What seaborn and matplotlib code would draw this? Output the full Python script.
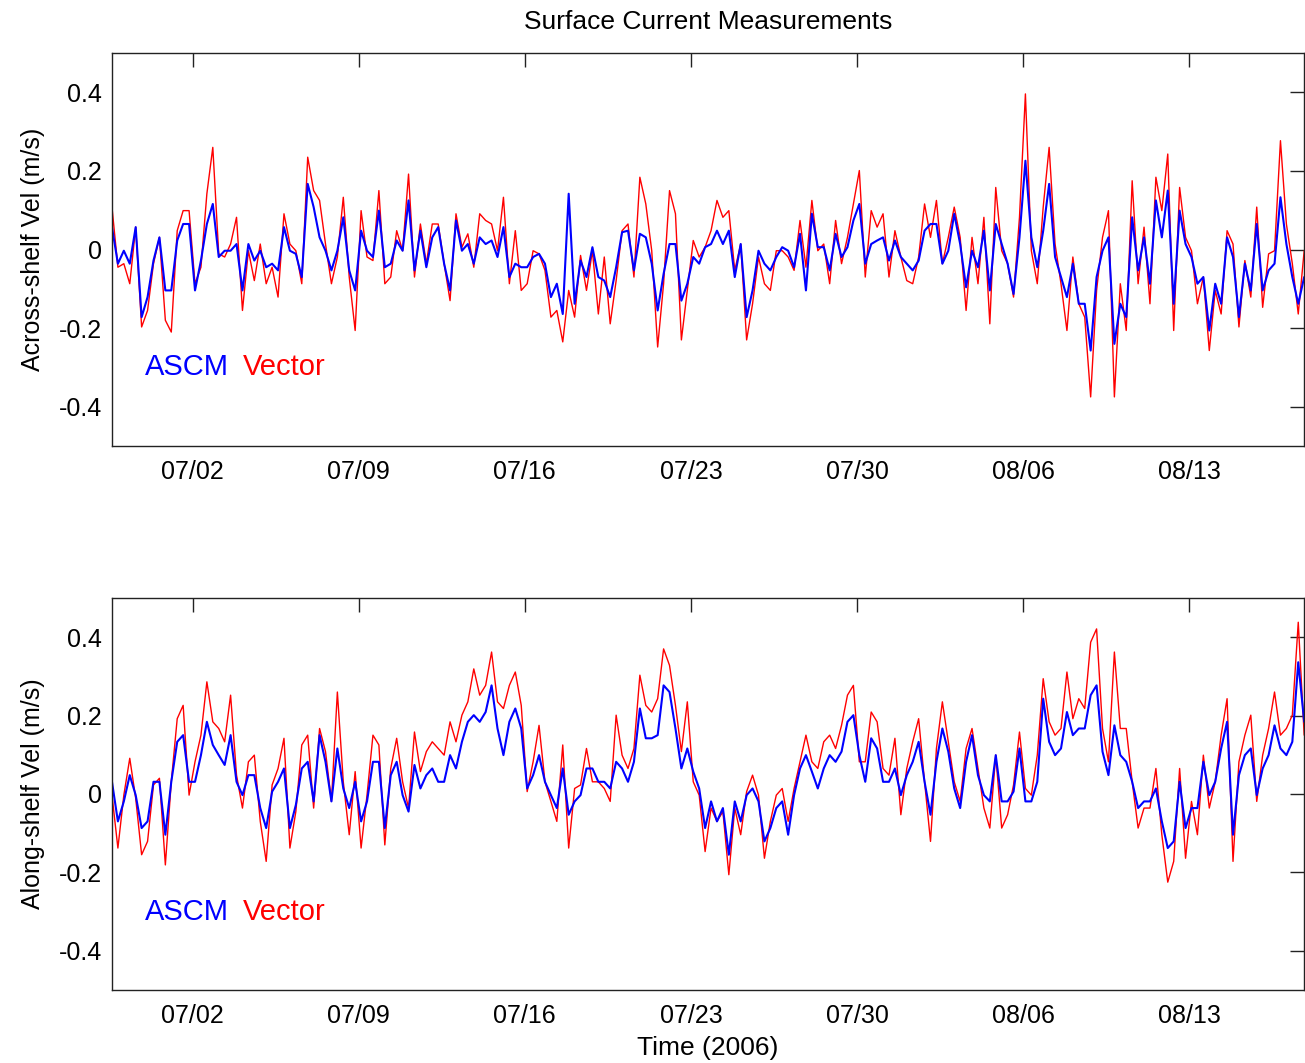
import numpy as np
import pandas as pd
import matplotlib
matplotlib.use('Agg')
import matplotlib.pyplot as plt
import matplotlib.dates as mdates
import seaborn as sns

# sample grid of the records (6-hourly)
start_time = pd.Timestamp('2006-06-28 14:24')
step_hours = 6
end_time = pd.Timestamp('2006-08-17 20:10')

# across-shelf velocity (m/s)
across_ascm = [
    0.057, -0.036, -0.003, -0.036, 0.057, -0.172, -0.121, -0.028, 0.031, -0.104,
    -0.104, 0.023, 0.065, 0.065, -0.104, -0.028, 0.065, 0.116, -0.019, -0.003,
    -0.003, 0.014, -0.104, 0.014, -0.028, -0.003, -0.045, -0.036, -0.053, 0.057,
    -0.003, -0.011, -0.070, 0.167, 0.108, 0.031, -0.003, -0.053, -0.003, 0.082,
    -0.053, -0.104, 0.048, -0.003, -0.019, 0.099, -0.045, -0.036, 0.023, -0.003,
    0.125, -0.053, 0.048, -0.045, 0.031, 0.057, -0.036, -0.104, 0.074, -0.003,
    0.014, -0.036, 0.031, 0.014, 0.023, -0.019, 0.057, -0.070,
    -0.036, -0.045, -0.045, -0.019, -0.011, -0.036, -0.121, -0.087, -0.164, 0.142,
    -0.138, -0.028, -0.070, 0.006, -0.070, -0.079, -0.121, -0.045, 0.044, 0.048,
    -0.053, 0.040, 0.031, -0.036, -0.155, -0.062, 0.014, 0.014, -0.130, -0.087,
    -0.019, -0.036, 0.006, 0.014, 0.048, 0.014, 0.048, -0.070, 0.014, -0.172,
    -0.104, -0.003, -0.036, -0.053, -0.019, 0.006, -0.003, -0.045, 0.040, -0.104,
    0.091, 0.006, 0.006, -0.053, 0.040, -0.019, 0.006, 0.074, 0.116, -0.036,
    0.014, 0.023, 0.031, -0.028, 0.023, -0.019, -0.036,
    -0.053, -0.028, 0.048, 0.065, 0.065, -0.036, -0.003, 0.091, 0.014, -0.096,
    -0.003, -0.045, 0.048, -0.104, 0.065, 0.014, -0.036, -0.113, 0.031, 0.226,
    0.031, -0.045, 0.048, 0.167, -0.019, -0.070, -0.121, -0.036, -0.138, -0.138,
    -0.257, -0.070, -0.003, 0.031, -0.240, -0.138, -0.172, 0.082, -0.053, 0.031,
    -0.087, 0.125, 0.031, 0.150, -0.138, 0.099, 0.014, -0.019, -0.087, -0.070,
    -0.206, -0.087, -0.138, 0.031, -0.019, -0.172, -0.036, -0.104, 0.065, -0.104,
    -0.053, -0.036, 0.133, 0.014, -0.070, -0.138, -0.070,
]
across_vector = [
    0.108, -0.045, -0.036, -0.087, 0.057, -0.197, -0.155, -0.036, 0.031, -0.180,
    -0.210, 0.048, 0.099, 0.099, -0.087, -0.045, 0.142, 0.260, -0.011, -0.019,
    0.014, 0.082, -0.155, -0.003, -0.079, 0.014, -0.087, -0.045, -0.121, 0.091,
    0.014, -0.003, -0.087, 0.235, 0.150, 0.125, 0.014, -0.087, -0.019, 0.133,
    -0.070, -0.206, 0.099, -0.019, -0.028, 0.150, -0.087, -0.070, 0.048, -0.003,
    0.192, -0.070, 0.065, -0.036, 0.065, 0.065, -0.036, -0.130, 0.091, 0.006,
    0.040, -0.045, 0.091, 0.074, 0.065, -0.003, 0.133, -0.087,
    0.048, -0.104, -0.087, -0.003, -0.011, -0.053, -0.172, -0.155, -0.235, -0.104,
    -0.172, -0.015, -0.104, -0.003, -0.164, -0.019, -0.189, -0.079, 0.048, 0.065,
    -0.070, 0.184, 0.116, -0.003, -0.248, -0.087, 0.150, 0.091, -0.230, -0.104,
    0.023, -0.019, 0.006, 0.048, 0.125, 0.082, 0.099, -0.053, 0.014, -0.230,
    -0.138, -0.019, -0.087, -0.104, -0.003, -0.003, -0.019, -0.053, 0.074, -0.045,
    0.125, -0.003, 0.014, -0.087, 0.074, -0.036, 0.031, 0.116, 0.201, -0.070,
    0.099, 0.057, 0.091, -0.070, 0.048, -0.019, -0.079,
    -0.087, -0.019, 0.116, 0.031, 0.125, -0.036, 0.031, 0.108, 0.031, -0.155,
    0.031, -0.087, 0.082, -0.189, 0.158, -0.003, -0.036, -0.121, 0.082, 0.396,
    -0.003, -0.087, 0.108, 0.260, 0.014, -0.087, -0.206, -0.019, -0.138, -0.172,
    -0.375, -0.104, 0.031, 0.099, -0.375, -0.087, -0.206, 0.175, -0.087, 0.057,
    -0.138, 0.184, 0.099, 0.243, -0.206, 0.158, 0.031, -0.003, -0.138, -0.070,
    -0.257, -0.104, -0.164, 0.048, 0.014, -0.197, -0.028, -0.121, 0.108, -0.147,
    -0.011, -0.003, 0.277, 0.065, -0.036, -0.164, -0.003,
]

# along-shelf velocity (m/s)
along_ascm = [
    0.031, -0.070, -0.019, 0.048, -0.003, -0.087, -0.070, 0.031, 0.031, -0.104,
    0.031, 0.133, 0.150, 0.031, 0.031, 0.099, 0.184, 0.125, 0.099, 0.074,
    0.150, 0.031, -0.003, 0.048, 0.048, -0.036, -0.087, 0.006, 0.031, 0.065,
    -0.087, -0.028, 0.065, 0.082, -0.019, 0.150, 0.082, -0.019, 0.116, 0.014,
    -0.036, 0.031, -0.070, -0.019, 0.082, 0.082, -0.087, 0.048, 0.082, -0.003,
    -0.045, 0.074, 0.014, 0.048, 0.065, 0.031, 0.031, 0.099, 0.065, 0.133,
    0.184, 0.201, 0.184, 0.209, 0.277, 0.167, 0.099, 0.184,
    0.218, 0.167, 0.014, 0.048, 0.099, 0.031, -0.003, -0.036, 0.065, -0.053,
    -0.019, -0.003, 0.065, 0.065, 0.031, 0.031, 0.014, 0.082, 0.065, 0.031,
    0.082, 0.218, 0.142, 0.142, 0.150, 0.277, 0.260, 0.167, 0.065, 0.116,
    0.057, 0.014, -0.087, -0.019, -0.070, -0.036, -0.155, -0.019, -0.070, -0.003,
    0.014, -0.019, -0.121, -0.087, -0.036, -0.019, -0.104, -0.003, 0.065, 0.099,
    0.057, 0.014, 0.065, 0.099, 0.082, 0.108, 0.184, 0.201, 0.099, 0.031,
    0.142, 0.116, 0.031, 0.031, 0.065, -0.003, 0.048,
    0.082, 0.133, 0.031, -0.053, 0.082, 0.167, 0.108, 0.014, -0.036, 0.082,
    0.150, 0.048, -0.003, -0.019, 0.099, -0.019, -0.019, 0.006, 0.116, -0.019,
    -0.019, 0.031, 0.243, 0.133, 0.099, 0.116, 0.209, 0.150, 0.167, 0.167,
    0.252, 0.277, 0.108, 0.048, 0.175, 0.099, 0.082, 0.031, -0.036, -0.019,
    -0.019, 0.014, -0.070, -0.138, -0.121, 0.031, -0.087, -0.036, -0.036, 0.082,
    -0.003, 0.031, 0.116, 0.184, -0.104, 0.048, 0.099, 0.116, -0.003, 0.065,
    0.099, 0.175, 0.116, 0.099, 0.133, 0.336, 0.184,
]
along_vector = [
    -0.003, -0.138, -0.003, 0.091, -0.011, -0.155, -0.121, 0.023, 0.040, -0.181,
    0.031, 0.192, 0.226, -0.003, 0.082, 0.150, 0.286, 0.184, 0.167, 0.133,
    0.252, 0.048, -0.036, 0.082, 0.099, -0.070, -0.172, 0.023, 0.065, 0.142,
    -0.138, -0.045, 0.125, 0.150, -0.036, 0.167, 0.108, -0.019, 0.260, 0.031,
    -0.104, 0.057, -0.138, -0.003, 0.150, 0.125, -0.130, 0.065, 0.142, 0.031,
    -0.036, 0.158, 0.057, 0.108, 0.133, 0.116, 0.099, 0.184, 0.133, 0.201,
    0.235, 0.319, 0.252, 0.277, 0.362, 0.235, 0.218, 0.277,
    0.311, 0.226, 0.006, 0.082, 0.175, 0.031, -0.019, -0.070, 0.125, -0.138,
    0.014, 0.023, 0.116, 0.031, 0.031, 0.014, -0.019, 0.201, 0.099, 0.065,
    0.116, 0.303, 0.226, 0.209, 0.243, 0.370, 0.328, 0.226, 0.108, 0.235,
    0.031, -0.003, -0.147, -0.036, -0.070, -0.045, -0.206, -0.036, -0.104, 0.006,
    0.048, -0.003, -0.164, -0.070, -0.003, 0.014, -0.070, 0.014, 0.082, 0.150,
    0.082, 0.065, 0.133, 0.150, 0.116, 0.175, 0.252, 0.277, 0.082, 0.082,
    0.209, 0.184, 0.065, 0.048, 0.142, -0.053, 0.065,
    0.133, 0.192, 0.031, -0.121, 0.116, 0.235, 0.133, 0.031, -0.019, 0.116,
    0.167, 0.065, -0.036, -0.087, 0.099, -0.087, -0.053, 0.023, 0.158, 0.014,
    -0.003, 0.099, 0.294, 0.184, 0.150, 0.167, 0.311, 0.192, 0.243, 0.218,
    0.387, 0.421, 0.167, 0.082, 0.362, 0.167, 0.167, 0.031, -0.087, -0.036,
    -0.036, 0.065, -0.104, -0.225, -0.172, 0.065, -0.164, -0.019, -0.104, 0.099,
    -0.036, 0.031, 0.150, 0.243, -0.172, 0.082, 0.150, 0.201, -0.019, 0.099,
    0.167, 0.260, 0.150, 0.167, 0.201, 0.438, 0.150,
]

tick_dates = pd.date_range('2006-07-02', '2006-08-13', freq='7D')
y_ticks = [-0.4, -0.2, 0, 0.2, 0.4]
y_tick_labels = ['-0.4', '-0.2', '0', '0.2', '0.4']


def make_frame(ascm, vector):
    t = start_time + pd.to_timedelta(np.arange(len(ascm)) * step_hours, unit='h')
    return pd.DataFrame({'time': t, 'ASCM': ascm, 'Vector': vector})


def draw_panel(ax, df, ylabel):
    sns.lineplot(data=df, x='time', y='Vector', color='#ff0000', lw=1.0,
                 estimator=None, ax=ax, legend=False)
    sns.lineplot(data=df, x='time', y='ASCM', color='#0000ff', lw=1.5,
                 estimator=None, ax=ax, legend=False)
    ax.set_xlim(start_time, end_time)
    ax.set_ylim(-0.5, 0.5)
    ax.set_yticks(y_ticks)
    ax.set_yticklabels(y_tick_labels)
    ax.set_xticks(tick_dates)
    ax.xaxis.set_major_formatter(mdates.DateFormatter('%m/%d'))
    ax.tick_params(direction='in', top=True, right=True, length=10, width=1,
                   labelsize=18, colors='#222222', labelcolor='black')
    ax.tick_params(axis='y', pad=7)
    ax.tick_params(axis='x', pad=10)
    for sp in ax.spines.values():
        sp.set_color('#222222')
        sp.set_linewidth(1.0)
    ax.set_xlabel('')
    ax.set_ylabel(ylabel, fontsize=18, labelpad=10, color='black')
    ax.text(0.028, 0.20, 'ASCM', color='#0000ff', fontsize=21,
            transform=ax.transAxes, va='center', ha='left')
    ax.text(0.110, 0.20, 'Vector', color='#ff0000', fontsize=21,
            transform=ax.transAxes, va='center', ha='left')


sns.set_style('white')
plt.rcParams['font.family'] = ['Liberation Sans', 'DejaVu Sans']
plt.rcParams['axes.unicode_minus'] = False
plt.rcParams['text.color'] = 'black'

fig = plt.figure(figsize=(13.05, 10.63), dpi=100)
ax_top = fig.add_axes([0.0858, 0.5804, 0.9134, 0.3697])
ax_bot = fig.add_axes([0.0858, 0.0687, 0.9134, 0.3688])

draw_panel(ax_top, make_frame(across_ascm, across_vector), 'Across-shelf Vel (m/s)')
draw_panel(ax_bot, make_frame(along_ascm, along_vector), 'Along-shelf Vel (m/s)')

ax_top.set_title('Surface Current Measurements', fontsize=19, pad=17, color='black')
ax_bot.set_xlabel('Time (2006)', fontsize=19, labelpad=6, color='black')

fig.savefig('out.png', dpi=100)
